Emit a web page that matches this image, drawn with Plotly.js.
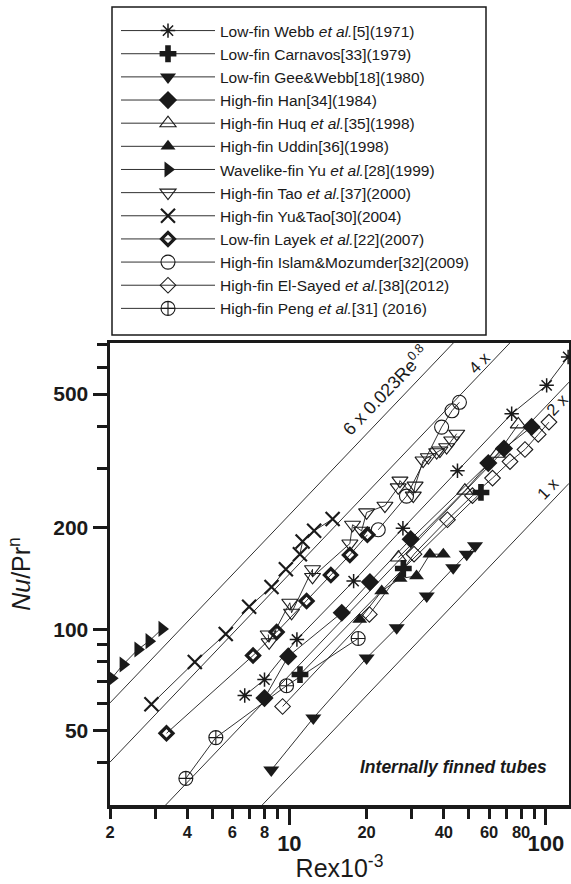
<!DOCTYPE html>
<html>
<head>
<meta charset="utf-8">
<script src="https://cdn.plot.ly/plotly-3.0.1.min.js"></script>
<style>html,body{margin:0;padding:0;background:#fff;}#chart{width:571px;height:884px;}</style>
</head>
<body>
<div id="chart"></div>
<script>
// ---- Data (Re x 10^-3, Nu/Pr^n) ----
const webbRe = [6.7, 8.0, 10.7, 17.8, 27.7, 45.2, 73.5, 100.6, 122];
const webbNu = [63.5, 70.8, 93.2, 139, 199.5, 296, 437, 531, 645];
const carnavosRe = [11.0, 27.8, 55.8];
const carnavosNu = [73.3, 151.5, 255];
const geeRe = [8.5, 12.4, 20.0, 26.2, 34.3, 43.5, 49.1, 52.9];
const geeNu = [38.1, 54.4, 82.1, 100.9, 125.5, 152.4, 167.1, 176.9];
const hanRe = [8.0, 9.9, 16.0, 20.6, 29.7, 59.6, 68.6, 87.9];
const hanNu = [62.4, 83.0, 111.9, 138.1, 185.2, 311.9, 344.6, 399.5];
const huqRe = [26.6, 48.3, 64.7, 78.0];
const huqNu = [163.3, 258.2, 332.3, 406.4];
const uddinRe = [18.8, 22.9, 27.0, 31.3, 35.3, 39.8];
const uddinNu = [106.9, 129.8, 141.5, 143.9, 167.1, 167.1];
const yuRe = [2.03, 2.25, 2.57, 2.84, 3.19];
const yuNu = [71.4, 78.5, 87.0, 92.1, 100.2];
const taoRe = [8.27, 8.34, 10.04, 10.2, 12.31, 12.31, 17.21, 17.63, 19.12, 20.0, 23.57, 26.56, 26.97, 30.4, 30.9, 33.2, 34.8, 37.5, 38.6, 41.0, 42.9, 44.9];
const taoNu = [96.4, 91.4, 119.8, 111.9, 150.7, 143.0, 179.7, 204.4, 196.1, 222.5, 232.9, 264.1, 276.6, 249.5, 267.3, 317.3, 324.6, 336.0, 339.9, 347.7, 364.1, 381.3];
const yuTaoRe = [2.90, 4.28, 5.65, 6.97, 8.52, 9.69, 10.99, 11.26, 12.49, 14.74];
const yuTaoNu = [59.8, 79.9, 96.8, 116.6, 133.5, 150.7, 167.1, 182.2, 196.1, 212.6];
const layekRe = [3.32, 7.22, 8.92, 11.67, 14.51, 17.21, 20.14];
const layekNu = [49.0, 83.5, 98.0, 121.2, 144.9, 166.3, 190.8];
const islamRe = [22.2, 28.6, 39.2, 43.0, 46.0];
const islamNu = [197.5, 248.6, 399.0, 446.0, 472.8];
const elSayedRe = [9.41, 20.5, 30.6, 41.3, 51.7, 61.9, 72.4, 82.8, 93.3, 102.7];
const elSayedNu = [58.9, 110.6, 167.1, 211.5, 249.5, 281.4, 315.1, 342.2, 379.4, 412.8];
const pengRe = [3.95, 5.17, 9.75, 18.54];
const pengNu = [36.0, 47.6, 67.9, 93.8];

// Reference correlation lines k x 0.023 Re^0.8
const refFactors = [1, 2, 4, 6];
const refLabels = ['1 x', '2 x', '4 x', '6 x 0.023Re<sup>0.8</sup>'];
// label anchor points (Re x10^-3, Nu)
const refLabelRe = [101.8, 111, 55.3, 23.6];
const refLabelNu = [263.6, 466, 622, 513];

// Axis ticks
const xMajorVals = [10, 100];
const xMajorText = ['10', '100'];
const xLabelVals = [2, 4, 6, 8, 20, 40, 60, 80];
const xLabelText = ['2', '4', '6', '8', '20', '40', '60', '80'];
const xMinorVals = [3, 5, 7, 9, 30, 50, 70, 90];
const yLabelVals = [50, 100, 200, 500];
const yLabelText = ['50', '100', '200', '500'];
const yMinorVals = [40, 60, 70, 80, 90, 300, 400, 600, 700];

const INK = '#1a1a1a';
const FONT = 'Liberation Sans, Arial, Helvetica, sans-serif';
const xRange = [Math.log10(2), 2.0897];
const yRange = [Math.log10(30), 2.851];

function series(name, x, y, symbol, size, filled, lw) {
  return {
    type: 'scatter', mode: 'lines+markers', name: name, x: x, y: y,
    line: {color: INK, width: 0.9},
    marker: {symbol: symbol, size: size, color: INK,
             line: {color: INK, width: filled ? 0 : (lw || 1.2)}},
    cliponaxis: true
  };
}

const traces = [];
const reEnds = [2, 123];
refFactors.forEach(function (k) {
  traces.push({
    type: 'scatter', mode: 'lines', xaxis: 'x2', yaxis: 'y', showlegend: false, hoverinfo: 'skip',
    x: reEnds, y: reEnds.map(function (r) { return k * 0.023 * Math.pow(r * 1000, 0.8); }),
    line: {color: INK, width: 0.9}
  });
});

traces.push(series('Low-fin Webb <i>et al.</i>[5](1971)', webbRe, webbNu, 'asterisk-open', 12, false, 1.5));
traces.push(series('Low-fin Carnavos[33](1979)', carnavosRe, carnavosNu, 'cross', 14, true));
traces.push(series('Low-fin Gee&amp;Webb[18](1980)', geeRe, geeNu, 'triangle-down', 14, true));
traces.push(series('High-fin Han[34](1984)', hanRe, hanNu, 'diamond', 14, true));
traces.push(series('High-fin Huq <i>et al.</i>[35](1998)', huqRe, huqNu, 'triangle-up-open', 14, false, 1.1));
traces.push(series('High-fin Uddin[36](1998)', uddinRe, uddinNu, 'triangle-up', 13, true));
traces.push(series('Wavelike-fin Yu <i>et al.</i>[28](1999)', yuRe, yuNu, 'triangle-right', 14, true));
traces.push(series('High-fin Tao <i>et al.</i>[37](2000)', taoRe, taoNu, 'triangle-down-open', 14, false, 1.1));
traces.push(series('High-fin Yu&amp;Tao[30](2004)', yuTaoRe, yuTaoNu, 'x-thin-open', 14, false, 2.2));
traces.push(series('Low-fin Layek <i>et al.</i>[22](2007)', layekRe, layekNu, 'diamond-open', 10, false, 3.2));
traces.push(series('High-fin Islam&amp;Mozumder[32](2009)', islamRe, islamNu, 'circle-open', 14, false, 1.1));
traces.push(series('High-fin El-Sayed <i>et al.</i>[38](2012)', elSayedRe, elSayedNu, 'diamond-open', 12, false, 1.1));
traces.push(series('High-fin Peng <i>et al.</i>[31] (2016)', pengRe, pengNu, 'circle-cross-open', 14, false, 1.1));

const annotations = refLabels.map(function (t, i) {
  return {
    xref: 'x', yref: 'y', x: Math.log10(refLabelRe[i]), y: Math.log10(refLabelNu[i]),
    text: t, showarrow: false, textangle: -46, borderpad: 0,
    font: {family: FONT, size: i === 3 ? 18 : 16.5, color: INK}
  };
});
annotations.push({
  xref: 'paper', yref: 'paper', x: 0.748, y: 0.082, xanchor: 'center', yanchor: 'middle',
  text: '<b><i>Internally finned tubes</i></b>', showarrow: false,
  font: {family: FONT, size: 17.5, color: INK}
});

const L = 110, T = 343, W = 459, H = 462;
function px2paperX(px) { return (px - L) / W; }
function px2paperY(py) { return (T + H - py) / H; }

const layout = {
  width: 571, height: 884,
  margin: {l: L, r: 571 - L - W, t: T, b: 884 - T - H, pad: 0},
  paper_bgcolor: '#fff', plot_bgcolor: '#fff',
  font: {family: FONT, color: INK},
  showlegend: true,
  legend: {
    x: px2paperX(116), y: px2paperY(14), xanchor: 'left', yanchor: 'top',
    font: {family: FONT, size: 15.5, color: INK},
    itemwidth: 94, bgcolor: 'rgba(0,0,0,0)', borderwidth: 0, tracegroupgap: 0
  },
  xaxis: {
    type: 'log', range: xRange, showgrid: false, zeroline: false,
    showline: true, linewidth: 3.5, linecolor: INK, mirror: true,
    tickmode: 'array', tickvals: xLabelVals, ticktext: xLabelText,
    ticks: 'outside', ticklen: 10, tickwidth: 3, tickcolor: INK,
    tickfont: {family: FONT, size: 16.5, weight: 700, color: INK},
    minor: {tickmode: 'array', tickvals: xMinorVals, ticks: 'outside', ticklen: 10, tickwidth: 3, tickcolor: INK, showgrid: false},
    title: {text: 'Rex10<sup>-3</sup>', font: {family: FONT, size: 25, color: INK}, standoff: 20}
  },
  xaxis2: {
    type: 'log', range: xRange, overlaying: 'x', anchor: 'y', side: 'bottom',
    showgrid: false, zeroline: false, showline: false,
    tickmode: 'array', tickvals: xMajorVals, ticktext: xMajorText,
    ticks: 'outside', ticklen: 19, tickwidth: 3, tickcolor: INK,
    tickfont: {family: FONT, size: 22, weight: 700, color: INK}
  },
  yaxis: {
    type: 'log', range: yRange, showgrid: false, zeroline: false,
    showline: true, linewidth: 3.5, linecolor: INK, mirror: true,
    tickmode: 'array', tickvals: yLabelVals, ticktext: yLabelText,
    ticks: 'outside', ticklen: 14, tickwidth: 3, tickcolor: INK,
    tickfont: {family: FONT, size: 21, weight: 700, color: INK},
    minor: {tickmode: 'array', tickvals: yMinorVals, ticks: 'outside', ticklen: 10, tickwidth: 3, tickcolor: INK, showgrid: false},
    title: {text: '<i>Nu</i>/Pr<sup>n</sup>', font: {family: FONT, size: 25, color: INK}, standoff: 16}
  },
  shapes: [{
    type: 'rect', xref: 'paper', yref: 'paper',
    x0: px2paperX(112), x1: px2paperX(486), y0: px2paperY(335), y1: px2paperY(7),
    line: {color: INK, width: 1.5}, fillcolor: 'rgba(0,0,0,0)'
  }],
  annotations: annotations
};

Plotly.newPlot('chart', traces, layout, {displayModeBar: false, staticPlot: true});
</script>
</body>
</html>
